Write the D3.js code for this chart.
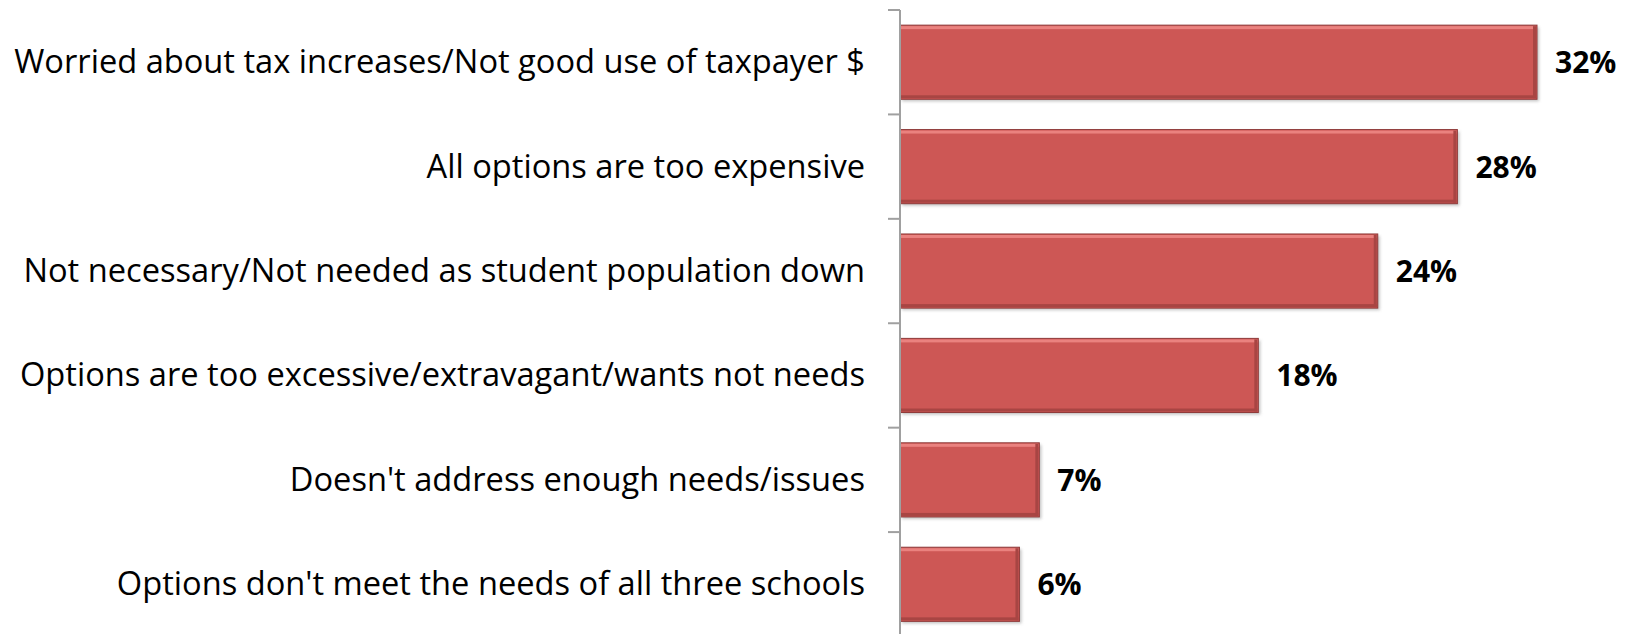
<!DOCTYPE html>
<html>
<head>
<meta charset="utf-8">
<script src="https://cdn.jsdelivr.net/npm/d3@7"></script>
<style>
  html, body { margin: 0; padding: 0; background: #ffffff; }
  svg { display: block; }
</style>
</head>
<body>
<svg id="chart" width="1632" height="634"></svg>
<script>
// Reasons given for opposing the options (% of respondents)
const categories = [
  "Worried about tax increases/Not good use of taxpayer $",
  "All options are too expensive",
  "Not necessary/Not needed as student population down",
  "Options are too excessive/extravagant/wants not needs",
  "Doesn't address enough needs/issues",
  "Options don't meet the needs of all three schools"
];
const values = [32, 28, 24, 18, 7, 6];
const valueLabels = ["32%", "28%", "24%", "18%", "7%", "6%"];

const svg = d3.select("#chart");
const axisX = 900;

const x = d3.scaleLinear().domain([0, 32]).range([axisX, 1537]);
const y = d3.scaleBand()
  .domain(categories)
  .range([10, 636.5])
  .paddingInner(0.29)
  .paddingOuter(0.145);

const step = y.step();
const bh = y.bandwidth();

const defs = svg.append("defs");
const blur = defs.append("filter").attr("id", "shadow")
  .attr("x", "-5%").attr("y", "-20%").attr("width", "115%").attr("height", "150%");
blur.append("feGaussianBlur").attr("stdDeviation", 1.5);

const font = "'Open Sans', Lato, sans-serif";

// category labels; the longest one spans from the left margin to the axis gap
const labels = svg.append("g").selectAll("text")
  .data(categories)
  .join("text")
  .attr("x", 865)
  .attr("y", d => y(d) + bh / 2 + 11)
  .attr("text-anchor", "end")
  .attr("font-family", font)
  .attr("font-size", 31)
  .attr("fill", "#000")
  .text(d => d);
const longest = labels.nodes()[0].getComputedTextLength();
const labelSize = Math.max(26, Math.min(36, 31 * 851 / longest));
labels.attr("font-size", labelSize);

// bars with bevelled edges
const bars = svg.append("g").selectAll("g")
  .data(categories)
  .join("g")
  .attr("transform", d => `translate(${axisX},${y(d)})`);

bars.append("rect")
  .attr("x", 2).attr("y", 2)
  .attr("width", (d, i) => x(values[i]) - axisX)
  .attr("height", bh)
  .attr("fill", "#9a9a9a")
  .attr("opacity", 0.6)
  .attr("filter", "url(#shadow)");

bars.append("rect")
  .attr("width", (d, i) => x(values[i]) - axisX)
  .attr("height", bh)
  .attr("fill", "#cd5755")
  .attr("stroke", "#8f3b3a")
  .attr("stroke-width", 1);

bars.append("rect")
  .attr("x", 1).attr("y", 1)
  .attr("width", (d, i) => x(values[i]) - axisX - 2)
  .attr("height", 3)
  .attr("fill", "#ea827f");

bars.append("rect")
  .attr("x", 1).attr("y", bh - 4)
  .attr("width", (d, i) => x(values[i]) - axisX - 2)
  .attr("height", 3)
  .attr("fill", "#a84543");

bars.append("rect")
  .attr("x", (d, i) => x(values[i]) - axisX - 4)
  .attr("y", 1)
  .attr("width", 3)
  .attr("height", bh - 2)
  .attr("fill", "#a84543");

// value labels
svg.append("g").selectAll("text")
  .data(categories)
  .join("text")
  .attr("x", (d, i) => x(values[i]) + 18)
  .attr("y", d => y(d) + bh / 2 + 11)
  .attr("font-family", font)
  .attr("font-size", 30)
  .attr("font-weight", "bold")
  .attr("fill", "#000")
  .text((d, i) => valueLabels[i]);

// category axis with tick marks at band boundaries
const axis = svg.append("g");
axis.append("line")
  .attr("x1", axisX).attr("x2", axisX)
  .attr("y1", 10).attr("y2", 634)
  .attr("stroke", "#a0a0a0").attr("stroke-width", 2);
const bounds = categories.map(c => y(c) - step * y.paddingInner() / 2);
axis.selectAll("line.tick")
  .data(bounds)
  .join("line")
  .attr("class", "tick")
  .attr("x1", axisX - 12).attr("x2", axisX)
  .attr("y1", d => d).attr("y2", d => d)
  .attr("stroke", "#a0a0a0").attr("stroke-width", 2);
</script>
</body>
</html>
